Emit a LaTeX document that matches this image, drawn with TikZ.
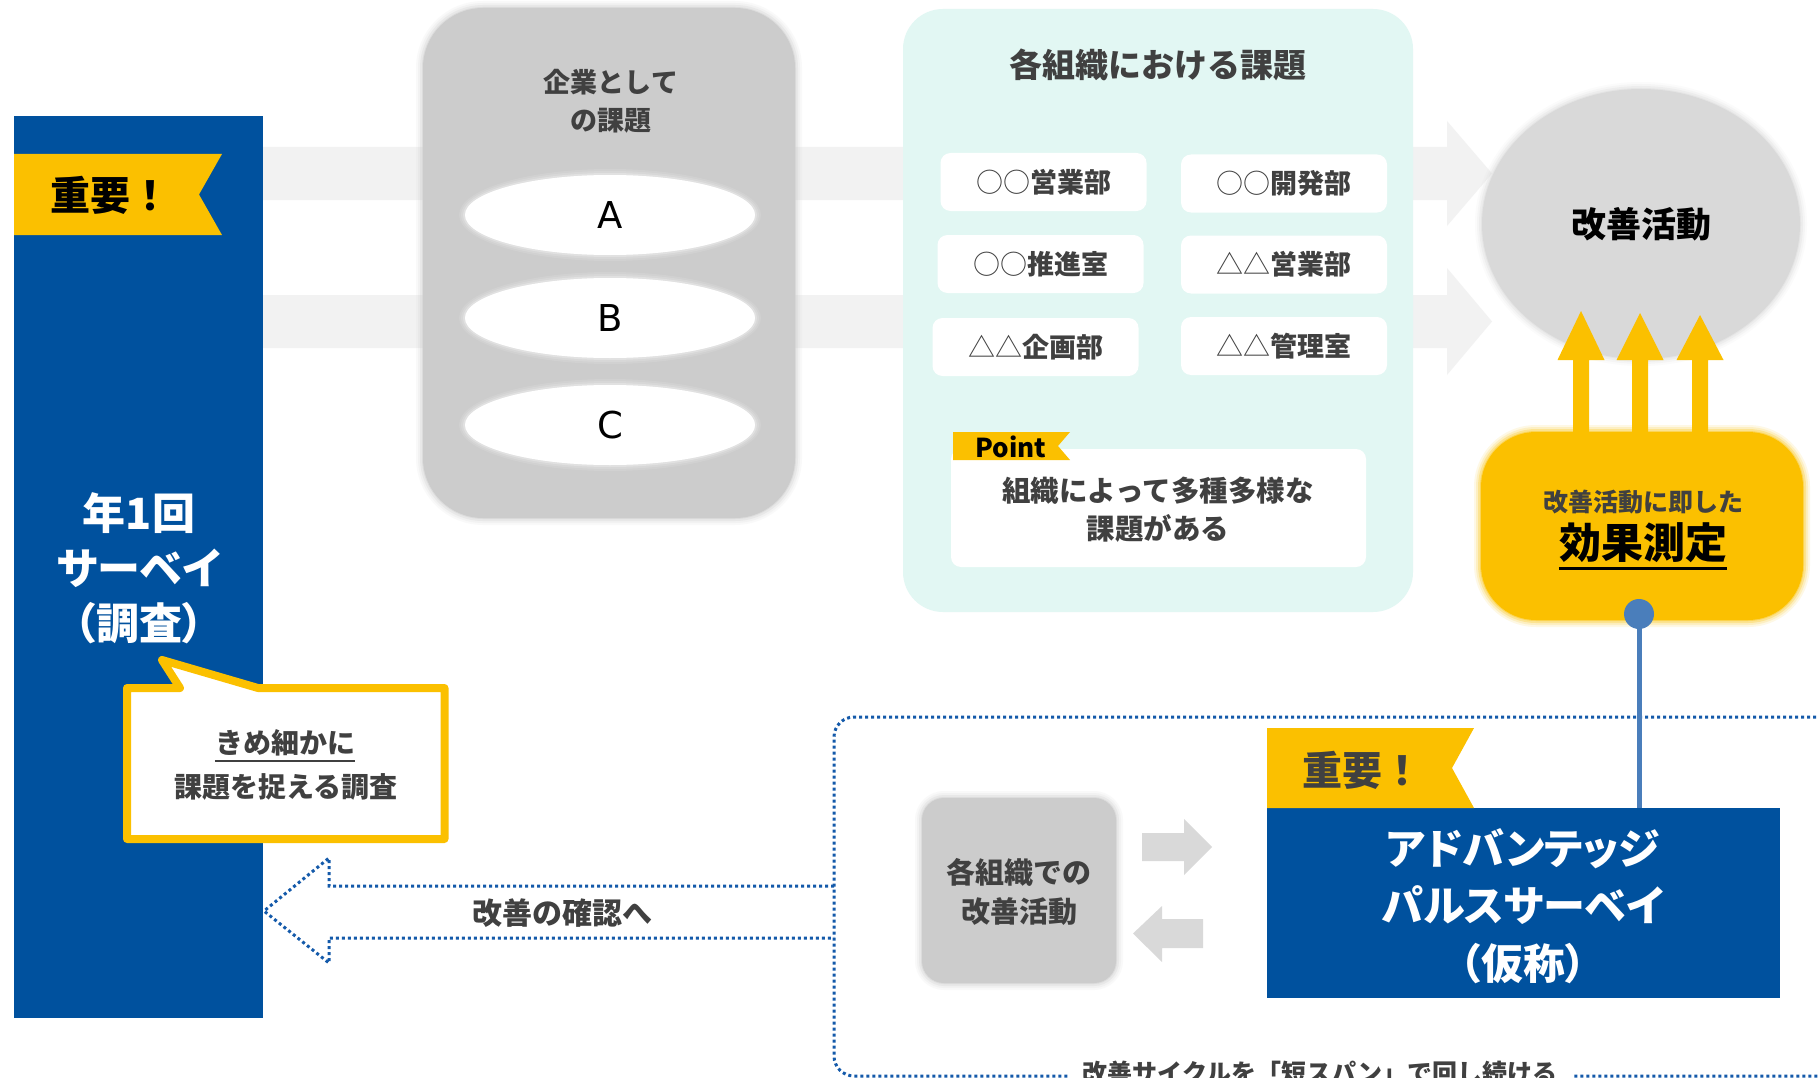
\documentclass[tikz,border=0pt]{standalone}
\usepackage{fontspec}
\setmainfont{Noto Sans CJK JP}
\newfontfamily\jpp{Noto Sans CJK JP}[RawFeature=+palt]
\newfontfamily\latf{DejaVu Sans}
\usetikzlibrary{shapes.geometric}
\definecolor{navy}{RGB}{0,81,158}
\definecolor{gold}{RGB}{251,192,0}
\definecolor{bandgrey}{RGB}{242,242,242}
\definecolor{boxgrey}{RGB}{204,204,204}
\definecolor{circgrey}{RGB}{217,217,217}
\definecolor{tealbg}{RGB}{226,247,243}
\definecolor{dg}{RGB}{64,64,64}
\definecolor{dotblue}{RGB}{20,90,170}
\definecolor{linkblue}{RGB}{74,126,187}
\newcommand\fs[2]{\fontsize{#1}{#2}\selectfont}
\newcommand\softbox[6]{%
  \foreach \d/\o in {7/0.10,5/0.15,3/0.25,1/0.4}{%
    \pgfmathsetmacro\rr{#6+\d}%
    \fill[#1,opacity=\o,rounded corners=\rr pt] (#2-\d,#3-\d) rectangle (#4+\d,#5+\d);}%
}
\newcommand\softell[5]{%
  \foreach \d/\o in {7/0.10,5/0.15,3/0.25,1/0.4}{%
    \pgfmathsetmacro\rxx{#4+\d}\pgfmathsetmacro\ryy{#5+\d}%
    \fill[#1,opacity=\o] (#2,#3) ellipse [x radius=\rxx, y radius=\ryy];}%
}
\tikzset{
  orgbox/.style={fill=white, rounded corners=10pt, minimum width=206pt, minimum height=58pt, inner sep=0pt, text=dg, font=\bfseries\fs{27}{27}},
  abc/.style={ellipse, fill=white, minimum width=290pt, minimum height=80pt, inner sep=0pt, font=\latf\fs{37}{37}},
  dotline/.style={dotblue, line width=3pt, dash pattern=on 3pt off 3pt},
  plain/.style={inner sep=0pt},
}
\begin{document}
\begin{tikzpicture}[x=1pt,y=-1pt]
\clip (0,0) rectangle (1819,1078);
\fill[white] (0,0) rectangle (1819,1078);

% grey band arrows
\fill[bandgrey] (263,147) -- (1447,147) -- (1447,121) -- (1492,173.5) -- (1447,226) -- (1447,200) -- (263,200) -- cycle;
\fill[bandgrey] (263,295) -- (1447,295) -- (1447,268) -- (1492,321.5) -- (1447,375) -- (1447,348) -- (263,348) -- cycle;

% left survey panel
\node[fill=navy, minimum width=249pt, minimum height=902pt, plain] (survey) at (138.5,567) {};
\node[text=white, align=center, font=\bfseries\fs{43}{55}] (surveytxt) at (139,568) {年1回\\{\jpp サーベイ}\\{\jpp （調査）}};
\fill[gold] (14,154) -- (222,154) -- (199,194.5) -- (222,235) -- (14,235) -- cycle;
\node[font=\bfseries\fs{40}{40}, text=black] (imp1) at (110,195) {重要！};

% corporate issues box
\softbox{boxgrey}{423}{8}{795}{518}{60}
\node[fill=boxgrey, rounded corners=60pt, minimum width=372pt, minimum height=510pt, plain] (corp) at (609,263) {};
\node[align=center, text=dg, font=\bfseries\fs{27}{38}] (corptitle) at (611,101) {企業として\\の課題};
\softell{white}{610}{215}{144}{39}
\softell{white}{610}{318}{144}{39}
\softell{white}{610}{425}{144}{39}
\node[abc] (A) at (610,215) {A};
\node[abc] (B) at (610,318) {B};
\node[abc] (C) at (610,425) {C};

% organisation issues box
\node[fill=tealbg, rounded corners=40pt, minimum width=510pt, minimum height=603pt, plain] (org) at (1158,310.5) {};
\node[text=dg, font=\bfseries\fs{33}{33}] (orgtitle) at (1158,65) {各組織における課題};
\node[orgbox] (o1) at (1043.5,182) {{\mdseries ○○}営業部};
\node[orgbox] (o2) at (1284,183.5) {{\mdseries ○○}開発部};
\node[orgbox] (o3) at (1040.5,264) {{\mdseries ○○}推進室};
\node[orgbox] (o4) at (1284,264.5) {{\mdseries △△}営業部};
\node[orgbox] (o5) at (1035.5,347) {{\mdseries △△}企画部};
\node[orgbox] (o6) at (1284,346) {{\mdseries △△}管理室};
\node[fill=white, rounded corners=10pt, minimum width=415pt, minimum height=118pt, plain] (pointbox) at (1158.5,508) {};
\fill[gold] (953,432) -- (1070,432) -- (1058,446) -- (1070,460) -- (953,460) -- cycle;
\node[font=\bfseries\fs{26}{26}, text=black] (pointlbl) at (1011,447) {Point};
\node[align=center, text=dg, font=\bfseries\fs{28.5}{38}] (pointtxt) at (1158,510) {組織によって多種多様な\\課題がある};

% improvement activity circle
\softell{circgrey}{1641}{224}{159}{135}
\node[ellipse, fill=circgrey, minimum width=318pt, minimum height=270pt, plain, font=\bfseries\fs{35}{35}, text=black] (kaizen) at (1641,224) {改善活動};

% yellow arrows
\foreach \ax/\tip in {1581/311,1640/313,1700/315}{
  \fill[gold] (\ax-8,445) -- (\ax-8,360) -- (\ax-23.5,360) -- (\ax,\tip) -- (\ax+23.5,360) -- (\ax+8,360) -- (\ax+8,445) -- cycle;
}

% effect measurement box
\softbox{gold}{1481}{432}{1803}{620}{55}
\node[fill=gold, rounded corners=55pt, minimum width=322pt, minimum height=188pt, plain] (effect) at (1642,526) {};
\node[text=dg, font=\bfseries\fs{25}{25}] (eff1) at (1643,502) {改善活動に即した};
\node[text=black, font=\bfseries\fs{42}{42}, inner xsep=0pt, inner ysep=2pt] (eff2) at (1643,543) {効果測定};
\draw[black, line width=2.5pt] ([yshift=-3pt]eff2.south west) -- ([yshift=-3pt]eff2.south east);
\coordinate (dot) at (1639,614);

% speech bubble
\draw[gold, line width=8pt, line join=round, fill=white] (127,688) -- (180,688) -- (162,660) -- (258,688) -- (444.5,688) -- (444.5,839) -- (127,839) -- cycle;
\node[text=dg, font=\bfseries\fs{28}{28}, inner xsep=0pt, inner ysep=2pt] (bub1) at (285,743) {きめ細かに};
\draw[dg, line width=2pt] ([yshift=-2pt]bub1.south west) -- ([yshift=-2pt]bub1.south east);
\node[text=dg, font=\bfseries\fs{28}{28}] (bub2) at (286,787) {課題を捉える調査};

% dotted cycle frame
\draw[dotline, rounded corners=20pt] (1900,717) -- (834,717) -- (834,1076) -- (1900,1076);
\node[fill=white, text=dg, font=\bfseries\fs{25}{25}, minimum width=505pt, inner xsep=0pt, inner ysep=2pt] (cyclelbl) at (1320,1073) {改善サイクルを「短スパン」で回し続ける};

% dotted return arrow
\draw[dotline, line join=miter] (834,886) -- (329,886) -- (329,858) -- (264,911) -- (329,963) -- (329,938) -- (834,938);
\node[text=dg, font=\bfseries\fs{30}{30}] (rettxt) at (562,913) {改善の確認へ};

% local improvement box
\softbox{boxgrey}{922}{798}{1116}{983}{22}
\node[fill=boxgrey, rounded corners=22pt, minimum width=194pt, minimum height=185pt, plain] (local) at (1019,890.5) {};
\node[align=center, text=dg, font=\bfseries\fs{29}{38.5}] (localtxt) at (1019,892) {各組織での\\改善活動};

% grey two-way arrows
\fill[circgrey] (1142,833) -- (1184,833) -- (1184,819) -- (1212,847) -- (1184,875) -- (1184,861) -- (1142,861) -- cycle;
\fill[circgrey] (1203,919) -- (1162,919) -- (1162,906) -- (1133,933.5) -- (1162,962) -- (1162,948) -- (1203,948) -- cycle;

% pulse survey box
\node[fill=navy, minimum width=513pt, minimum height=190pt, plain] (pulse) at (1523.5,903) {};
\node[text=white, align=center, font=\jpp\bfseries\fs{42}{57.5}] (pulsetxt) at (1523,906) {アドバンテッジ\\パルスサーベイ\\（仮称）};
\fill[gold] (1267,728) -- (1474,728) -- (1452,768) -- (1474,808) -- (1267,808) -- cycle;
\node[font=\bfseries\fs{40}{40}, text=dg] (imp2) at (1362,770) {重要！};

% connector effect -> pulse
\draw[linkblue, line width=5pt] (dot) -- (pulse.north -| dot);
\fill[linkblue] (dot) circle[radius=15];
\end{tikzpicture}
\end{document}
